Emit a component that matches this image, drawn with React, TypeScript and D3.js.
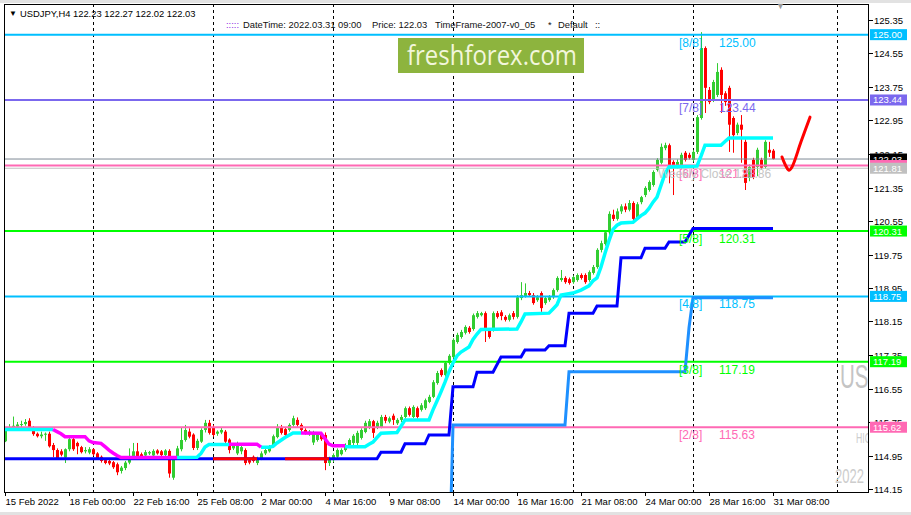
import { useEffect, useRef } from "react";
import * as d3 from "d3";

// H4 bars, 15 Feb 2022 08:00 .. 31 Mar 2022 08:00
const opens = [
  115.29, 115.6, 115.62, 115.64, 115.68, 115.7, 115.78, 115.62, 115.47, 115.41,
  115.45, 115.47, 115.2, 115.08, 115.05, 114.9, 115.1, 115.34, 115.25, 115.15,
  115.05, 115.02, 115.1, 115.0, 114.92, 114.84, 114.82, 114.79, 114.74, 114.58,
  114.65, 114.78, 114.88, 115.05, 114.98, 114.95, 115.0, 114.95, 115.07, 115.05,
  114.96, 115.06, 114.42, 114.9, 115.1, 115.32, 115.52, 115.45, 115.13, 115.28,
  115.56, 115.73, 115.63, 115.47, 115.5, 115.52, 115.33, 115.12, 115.0, 115.05,
  115.08, 114.84, 114.92, 114.77, 114.88, 115.0, 115.05, 115.17, 115.39, 115.63,
  115.58, 115.56, 115.68, 115.8, 115.68, 115.56, 115.46, 115.26, 115.32, 115.46,
  115.44, 114.77, 114.84, 114.92, 114.98, 115.08, 115.2, 115.25, 115.25, 115.37,
  115.51, 115.61, 115.77, 115.63, 115.63, 115.87, 115.76, 115.9, 115.72, 115.8,
  115.87, 116.08, 115.87, 116.08, 116.04, 116.08, 116.23, 116.35, 116.68, 116.99,
  116.87, 117.16, 117.3, 117.66, 117.78, 117.88, 118.0, 117.97, 118.26, 118.3,
  118.35, 117.95, 117.95, 118.35, 118.37, 118.26, 118.19, 118.35, 118.26, 118.71,
  118.76, 118.83, 118.78, 118.66, 118.83, 118.59, 118.66, 118.73, 118.9, 119.14,
  119.19, 119.16, 119.09, 119.14, 119.26, 119.26, 119.14, 119.31, 119.45, 119.86,
  120.0, 120.28, 120.7, 120.6, 120.78, 120.9, 120.82, 120.98, 120.62, 121.0,
  121.17, 121.29, 121.41, 121.77, 121.94, 122.29, 122.36, 121.96, 121.86, 121.84,
  122.18, 122.13, 122.01, 122.2, 123.01, 124.68, 123.68, 123.44, 123.56, 124.16,
  123.6, 123.73, 123.01, 122.65, 122.85, 122.44, 121.58, 122.01, 121.84, 122.01,
  121.84, 122.25, 122.23,
];
const highs = [
  115.62, 115.7, 115.88, 115.75, 115.78, 115.82, 115.84, 115.65, 115.5, 115.52,
  115.5, 115.52, 115.25, 115.12, 115.1, 115.12, 115.38, 115.4, 115.28, 115.18,
  115.15, 115.15, 115.12, 115.03, 114.95, 114.88, 114.86, 114.82, 114.78, 114.7,
  114.82, 115.12, 115.25, 115.25, 115.02, 115.08, 115.06, 115.1, 115.1, 115.08,
  115.1, 115.1, 114.93, 115.18, 115.61, 115.68, 115.6, 115.48, 115.35, 115.6,
  115.8, 115.8, 115.68, 115.55, 115.62, 115.56, 115.36, 115.22, 115.28, 115.2,
  115.12, 114.88, 114.95, 114.92, 115.05, 115.12, 115.2, 115.45, 115.7, 115.68,
  115.62, 115.72, 115.9, 115.86, 115.72, 115.6, 115.56, 115.54, 115.5, 115.5,
  115.5, 114.92, 115.0, 115.12, 115.12, 115.24, 115.36, 115.46, 115.54, 115.6,
  115.78, 115.82, 115.8, 115.78, 115.92, 115.92, 115.88, 115.95, 115.84, 115.92,
  116.12, 116.12, 116.15, 116.12, 116.2, 116.31, 116.4, 116.75, 116.97, 117.03,
  117.2, 117.37, 117.75, 117.88, 117.95, 118.06, 118.04, 118.34, 118.4, 118.38,
  118.39, 117.99, 118.39, 118.4, 118.42, 118.3, 118.34, 118.4, 118.78, 119.09,
  119.06, 118.88, 118.83, 118.78, 118.87, 118.75, 118.78, 118.94, 119.23, 119.38,
  119.23, 119.2, 119.25, 119.3, 119.3, 119.3, 119.37, 119.5, 119.9, 120.08,
  120.32, 120.78, 120.82, 120.85, 120.95, 120.97, 121.05, 121.02, 121.0, 121.15,
  121.38, 121.52, 121.76, 122.05, 122.4, 122.42, 122.4, 122.0, 122.02, 122.18,
  122.22, 122.18, 122.25, 123.08, 125.06, 124.72, 123.75, 123.92, 124.32, 124.22,
  123.65, 123.78, 123.05, 122.9, 123.08, 122.5, 121.9, 122.06, 122.3, 122.06,
  122.48, 122.44, 122.27,
];
const lows = [
  115.27, 115.56, 115.58, 115.6, 115.63, 115.66, 115.58, 115.42, 115.38, 115.36,
  115.3, 115.14, 114.91, 114.86, 114.93, 114.77, 115.05, 115.06, 114.98, 115.0,
  115.0, 114.98, 114.94, 114.85, 114.78, 114.74, 114.72, 114.63, 114.48, 114.52,
  114.6, 114.74, 114.85, 114.86, 114.88, 114.92, 114.96, 114.92, 114.97, 114.92,
  114.93, 114.42, 114.37, 114.85, 115.05, 115.28, 115.36, 115.08, 115.08, 115.25,
  115.5, 115.45, 115.4, 115.42, 115.46, 115.24, 115.0, 115.08, 114.96, 114.98,
  114.72, 114.74, 114.78, 114.72, 114.84, 114.96, 115.02, 115.14, 115.36, 115.45,
  115.4, 115.52, 115.64, 115.64, 115.52, 115.45, 115.42, 115.2, 115.28, 115.3,
  114.6, 114.7, 114.79, 114.88, 114.95, 115.04, 115.16, 115.2, 115.2, 115.33,
  115.48, 115.58, 115.37, 115.58, 115.6, 115.72, 115.72, 115.68, 115.68, 115.75,
  115.83, 115.88, 115.84, 115.83, 116.0, 116.04, 116.2, 116.32, 116.64, 116.83,
  116.83, 117.12, 117.27, 117.62, 117.74, 117.84, 117.86, 117.93, 118.22, 118.27,
  117.66, 117.74, 117.91, 118.22, 118.18, 118.15, 118.15, 118.2, 118.22, 118.66,
  118.72, 118.74, 118.55, 118.62, 118.38, 118.55, 118.62, 118.69, 118.86, 119.1,
  119.05, 119.03, 119.05, 119.1, 119.15, 119.05, 119.1, 119.27, 119.41, 119.8,
  119.96, 120.22, 120.55, 120.56, 120.72, 120.76, 120.78, 120.55, 120.58, 120.95,
  121.12, 121.25, 121.37, 121.73, 121.9, 122.24, 121.45, 121.17, 121.8, 121.8,
  121.97, 122.02, 121.97, 122.15, 122.97, 123.13, 123.34, 123.39, 123.51, 123.13,
  123.3, 122.2, 122.18, 122.6, 121.94, 121.29, 121.5, 121.55, 121.62, 121.78,
  121.8, 122.08, 122.02,
];
const closes = [
  115.6, 115.62, 115.66, 115.69, 115.7, 115.75, 115.62, 115.46, 115.41, 115.45,
  115.47, 115.17, 115.08, 114.89, 114.97, 115.1, 115.34, 115.1, 115.17, 115.03,
  115.08, 115.1, 114.98, 114.89, 114.82, 114.77, 114.76, 114.67, 114.55, 114.66,
  114.78, 114.87, 115.05, 114.9, 114.93, 115.03, 115.03, 115.06, 115.0, 114.96,
  115.07, 114.52, 114.9, 115.12, 115.32, 115.56, 115.4, 115.13, 115.3, 115.56,
  115.73, 115.49, 115.44, 115.52, 115.56, 115.28, 115.08, 115.18, 115.24, 115.15,
  114.77, 114.78, 114.82, 114.88, 115.0, 115.08, 115.17, 115.41, 115.63, 115.49,
  115.44, 115.68, 115.84, 115.68, 115.56, 115.49, 115.52, 115.49, 115.46, 115.34,
  114.77, 114.88, 114.96, 115.08, 115.08, 115.2, 115.32, 115.42, 115.49, 115.56,
  115.73, 115.77, 115.49, 115.73, 115.87, 115.78, 115.84, 115.8, 115.8, 115.87,
  116.08, 115.92, 116.11, 115.87, 116.15, 116.27, 116.35, 116.7, 116.92, 116.87,
  117.16, 117.33, 117.71, 117.83, 117.9, 118.02, 117.9, 118.3, 118.35, 118.35,
  117.95, 117.78, 118.35, 118.26, 118.28, 118.19, 118.3, 118.26, 118.73, 118.78,
  118.83, 118.78, 118.59, 118.73, 118.47, 118.71, 118.73, 118.9, 119.19, 119.19,
  119.09, 119.07, 119.21, 119.26, 119.19, 119.09, 119.33, 119.45, 119.86, 120.02,
  120.28, 120.72, 120.6, 120.78, 120.9, 120.82, 120.98, 120.6, 120.95, 121.12,
  121.34, 121.48, 121.72, 122.01, 122.32, 122.36, 121.84, 121.84, 121.96, 122.13,
  122.01, 122.06, 122.2, 123.03, 124.68, 123.73, 123.39, 123.87, 124.11, 123.56,
  123.39, 122.85, 122.6, 122.85, 122.73, 121.46, 121.84, 121.6, 122.25, 121.82,
  122.44, 122.18, 122.03,
];

const timeLabels = [
  "15 Feb 2022", "18 Feb 00:00", "22 Feb 16:00", "25 Feb 08:00", "2 Mar 00:00",
  "4 Mar 16:00", "9 Mar 08:00", "14 Mar 00:00", "16 Mar 16:00", "21 Mar 08:00",
  "24 Mar 00:00", "28 Mar 16:00", "31 Mar 08:00",
];
const barsPerLabel = 16;
const weekSeparators = [22, 52, 82, 112, 142, 172, 208];

const priceTicks = [
  125.35, 124.55, 123.75, 122.95, 122.15, 121.35, 120.55, 119.75, 118.95,
  118.15, 117.35, 116.55, 115.75, 114.95, 114.15,
];

// Murrey math levels
const murreyTags = ["[8/8]", "[7/8]", "[6/8]", "[5/8]", "[4/8]", "[3/8]", "[2/8]"];
const murreyLevels = [125.0, 123.44, 121.875, 120.31, 118.75, 117.19, 115.625];
const murreyTexts = ["125.00", "123.44", "121.88", "120.31", "118.75", "117.19", "115.63"];
const murreyAxisTexts = ["125.00", "123.44", "121.88", "120.31", "118.75", "117.19", "115.62"];

const lastPrice = 122.03;
const weeklyClose = 121.81;
const weeklyCloseText = "Weekly Close 121.86";

// indicator lines as [bar, price] break points
const stepSlow: [number, number][] = [
  [0, 114.87], [93, 114.87], [94, 115.03], [99, 115.03], [100, 115.23], [105, 115.23],
  [106, 115.44], [111, 115.44], [112, 116.59], [117, 116.59], [118, 116.94], [122, 116.94],
  [124, 117.3], [129, 117.3], [130, 117.47], [135, 117.47], [136, 117.57], [140, 117.57],
  [141, 118.35], [147, 118.35], [148, 118.52], [153, 118.52], [154, 119.67], [159, 119.67],
  [160, 119.9], [165, 119.9], [166, 120.05], [170, 120.05], [172, 120.37], [192, 120.37],
];
const stepSlowRed: [number, number][] = [[52, 63], [70, 81]];
const stepWide: [number, number][] = [
  [111, 112.0], [112, 115.68], [140, 115.68], [141, 116.95], [170, 116.95],
  [171, 118.0], [172, 118.72], [192, 118.72],
];
const trailUp: [number, number][][] = [
  [[0, 115.57], [12, 115.57]],
  [[43, 114.9], [48, 114.91], [49, 115.0], [50, 115.15], [51, 115.21], [56, 115.21]],
  [[64, 115.15], [66, 115.15], [67, 115.17], [68, 115.25], [70, 115.38], [72, 115.49], [74, 115.49]],
  [
    [85, 115.16], [90, 115.16], [91, 115.22], [92, 115.27], [93, 115.38], [94, 115.48],
    [98, 115.5], [99, 115.65], [100, 115.8], [106, 115.8], [107, 116.04], [108, 116.25],
    [109, 116.47], [110, 116.7], [111, 116.95], [112, 117.16], [113, 117.33], [114, 117.42],
    [116, 117.54], [117, 117.72], [118, 117.85], [119, 117.96], [128, 117.97], [129, 118.14],
    [130, 118.33], [136, 118.35], [137, 118.45], [138, 118.55], [139, 118.78], [142, 118.83],
    [144, 118.9], [146, 119.0], [147, 119.12], [148, 119.19], [149, 119.45], [150, 119.78],
    [151, 120.08], [152, 120.35], [153, 120.45], [154, 120.5], [157, 120.52], [158, 120.6],
    [159, 120.68], [160, 120.74], [161, 120.85], [162, 121.0], [163, 121.12], [164, 121.4],
    [165, 121.68], [166, 121.84], [173, 121.86], [174, 122.1], [175, 122.36], [179, 122.36],
    [180, 122.45], [181, 122.53], [192, 122.53],
  ],
];
const trailDown: [number, number][][] = [
  [
    [12, 115.57], [13, 115.52], [14, 115.47], [15, 115.4], [20, 115.4], [21, 115.3],
    [22, 115.26], [24, 115.24], [25, 115.16], [26, 115.08], [27, 115.01], [28, 114.95],
    [29, 114.9], [43, 114.9],
  ],
  [[56, 115.22], [63, 115.22], [64, 115.15]],
  [[74, 115.49], [79, 115.48], [80, 115.35], [81, 115.22], [82, 115.18], [85, 115.18]],
];
const forecastHook: [number, number][] = [
  [194.25, 122.08], [195.25, 121.86], [196, 121.76], [196.75, 121.84], [199, 122.44], [201.25, 123.03],
];

const W = 911;
const H = 515;
const FONT = '"Liberation Sans", Arial, Helvetica, sans-serif';
const GREEN = "#32cd32";
const RED = "#ff0000";
const MURREY_COLORS = ["#00bfff", "#7b68ee", "#ff69b4", "#00ff00", "#00bfff", "#00ff00", "#ff69b4"];

export default function App() {
  const svgRef = useRef<SVGSVGElement>(null);

  useEffect(() => {
    if (!svgRef.current) return;
    const svg = d3.select(svgRef.current);
    svg.selectAll("*").remove();

    const x = d3.scaleLinear().domain([0, 216]).range([5, 869]);
    const y = d3.scaleLinear().domain([114.15, 125.35]).range([489, 20]);

    svg.append("rect").attr("width", W).attr("height", H).attr("fill", "#fff");
    svg.append("rect").attr("width", W).attr("height", 3).attr("fill", "#e2e2e2");
    svg.append("rect").attr("y", H - 3).attr("width", W).attr("height", 3).attr("fill", "#e2e2e2");

    svg
      .append("defs")
      .append("clipPath")
      .attr("id", "plot-clip")
      .append("rect")
      .attr("x", 5)
      .attr("y", 5)
      .attr("width", 864)
      .attr("height", 487);

    const plot = svg.append("g").attr("clip-path", "url(#plot-clip)");

    // week separators
    plot
      .selectAll("line.sep")
      .data(weekSeparators)
      .join("line")
      .attr("x1", (d) => Math.round(x(d)) + 0.5)
      .attr("x2", (d) => Math.round(x(d)) + 0.5)
      .attr("y1", 4)
      .attr("y2", 492)
      .attr("stroke", "#000")
      .attr("stroke-dasharray", "3,3");

    // watermark
    const wm = [
      { t: "USDJPY", px: 840, py: 388, fs: 33, c: "#c4c4c4" },
      { t: "HIGH", px: 856, py: 443, fs: 14, c: "#cdcdcd" },
      { t: "2022", px: 835, py: 483, fs: 21, c: "#cdcdcd" },
    ];
    wm.forEach((w) => {
      plot
        .append("text")
        .attr("transform", `translate(${w.px},${w.py}) scale(0.62,1)`)
        .attr("font-family", FONT)
        .attr("font-size", w.fs)
        .attr("fill", w.c)
        .text(w.t);
    });

    // candles
    const bars = closes.map((c, i) => ({ i, o: opens[i], h: highs[i], l: lows[i], c }));
    const cg = plot.append("g").selectAll("g").data(bars).join("g");
    cg.append("line")
      .attr("x1", (d) => x(d.i) + 0.5)
      .attr("x2", (d) => x(d.i) + 0.5)
      .attr("y1", (d) => y(d.h))
      .attr("y2", (d) => y(d.l))
      .attr("stroke", (d) => (d.c >= d.o ? GREEN : RED))
      .attr("stroke-width", 1);
    cg.append("rect")
      .attr("x", (d) => x(d.i) - 1)
      .attr("width", 3)
      .attr("y", (d) => y(Math.max(d.o, d.c)))
      .attr("height", (d) => Math.max(1, Math.abs(y(d.o) - y(d.c))))
      .attr("fill", (d) => (d.c >= d.o ? GREEN : RED));

    // horizontal lines
    const hline = (v: number, color: string, w: number) =>
      plot
        .append("line")
        .attr("x1", 4)
        .attr("x2", 869)
        .attr("y1", y(v))
        .attr("y2", y(v))
        .attr("stroke", color)
        .attr("stroke-width", w);
    hline(lastPrice, "#7f8a96", 1);
    hline(weeklyClose, "#c0c0c0", 1);
    murreyLevels.forEach((v, k) => hline(v, MURREY_COLORS[k], 2));

    const line = d3
      .line<[number, number]>()
      .x((d) => x(d[0]))
      .y((d) => y(d[1]));

    // step indicators
    plot
      .append("path")
      .datum(stepWide)
      .attr("d", line)
      .attr("fill", "none")
      .attr("stroke", "#1e90ff")
      .attr("stroke-width", 3);
    plot
      .append("path")
      .datum(stepSlow)
      .attr("d", line)
      .attr("fill", "none")
      .attr("stroke", "#0000ff")
      .attr("stroke-width", 3);
    plot
      .selectAll("path.slowred")
      .data(stepSlowRed)
      .join("path")
      .attr("d", (r) => line([[r[0], stepSlow[0][1]], [r[1], stepSlow[0][1]]]))
      .attr("fill", "none")
      .attr("stroke", RED)
      .attr("stroke-width", 3);

    // trailing line
    plot
      .selectAll("path.up")
      .data(trailUp)
      .join("path")
      .attr("d", line)
      .attr("fill", "none")
      .attr("stroke", "#00ffff")
      .attr("stroke-width", 3.5);
    plot
      .selectAll("path.dn")
      .data(trailDown)
      .join("path")
      .attr("d", line)
      .attr("fill", "none")
      .attr("stroke", "#ff00ff")
      .attr("stroke-width", 3.5);

    // hand-drawn forecast hook
    plot
      .append("path")
      .datum(forecastHook)
      .attr("d", line.curve(d3.curveCatmullRom.alpha(0.5)))
      .attr("fill", "none")
      .attr("stroke", RED)
      .attr("stroke-width", 3)
      .attr("stroke-linecap", "round");

    // murrey labels
    const tagX = x(168.5);
    const valX = x(178.5);
    murreyLevels.forEach((v, k) => {
      plot
        .append("text")
        .attr("x", tagX)
        .attr("y", y(v) + 12)
        .attr("font-family", FONT)
        .attr("font-size", 12)
        .attr("fill", MURREY_COLORS[k])
        .text(murreyTags[k]);
      plot
        .append("text")
        .attr("x", valX)
        .attr("y", y(v) + 12)
        .attr("font-family", FONT)
        .attr("font-size", 12)
        .attr("fill", MURREY_COLORS[k])
        .text(murreyTexts[k]);
    });
    plot
      .append("text")
      .attr("x", x(163.25))
      .attr("y", y(weeklyClose) + 10)
      .attr("font-family", FONT)
      .attr("font-size", 12)
      .attr("fill", "#c0c0c0")
      .attr("opacity", 0.9)
      .text(weeklyCloseText);

    // frame
    svg
      .append("rect")
      .attr("x", 4.5)
      .attr("y", 4.5)
      .attr("width", 864)
      .attr("height", 488)
      .attr("fill", "none")
      .attr("stroke", "#000");

    // price axis
    const yAxis = svg.append("g");
    priceTicks.forEach((v) => {
      const py = Math.round(y(v)) + 0.5;
      yAxis.append("line").attr("x1", 869).attr("x2", 873).attr("y1", py).attr("y2", py).attr("stroke", "#000");
      yAxis
        .append("text")
        .attr("x", 874)
        .attr("y", py + 3.5)
        .attr("font-family", FONT)
        .attr("font-size", 9.5)
        .attr("fill", "#000")
        .text(v.toFixed(2));
    });
    const priceBox = (v: number, label: string, bg: string) => {
      const g = svg.append("g").attr("transform", `translate(870,${y(v) - 5.5})`);
      g.append("rect").attr("width", 37).attr("height", 11).attr("fill", bg);
      g.append("text")
        .attr("x", 3)
        .attr("y", 9)
        .attr("font-family", FONT)
        .attr("font-size", 9.5)
        .attr("fill", "#fff")
        .text(label);
    };
    murreyLevels.forEach((v, k) => {
      if (k !== 2) priceBox(v, murreyAxisTexts[k], MURREY_COLORS[k]);
    });
    priceBox(lastPrice, lastPrice.toFixed(2), "#000");
    priceBox(murreyLevels[2], murreyAxisTexts[2], MURREY_COLORS[2]);
    priceBox(weeklyClose, weeklyClose.toFixed(2), "#c0c0c0");

    // time axis
    const xAxis = svg.append("g");
    timeLabels.forEach((t, k) => {
      const px = Math.round(x(k * barsPerLabel)) + 0.5;
      xAxis.append("line").attr("x1", px).attr("x2", px).attr("y1", 492).attr("y2", 496).attr("stroke", "#000");
      xAxis
        .append("text")
        .attr("x", px)
        .attr("y", 505)
        .attr("font-family", FONT)
        .attr("font-size", 9.5)
        .attr("fill", "#000")
        .text(t);
    });

    // header
    const head = svg.append("g").attr("font-family", FONT).attr("style", "white-space: pre");
    head.append("text").attr("x", 9).attr("y", 16).attr("font-size", 8).attr("fill", "#000").text("▼");
    head
      .append("text")
      .attr("x", 20)
      .attr("y", 17)
      .attr("font-size", 9.4)
      .attr("fill", "#000")
      .text("USDJPY,H4  122.23 122.27 122.02 122.03");
    head.append("text").attr("x", 226).attr("y", 28).attr("font-size", 9.4).attr("fill", "#8a2be2").text(":::::");
    const info = [
      { t: "DateTime: 2022.03.31 09:00", px: 243 },
      { t: "Price: 122.03", px: 372 },
      { t: "TimeFrame-2007-v0_05", px: 435 },
      { t: "*", px: 548 },
      { t: "Default", px: 558 },
      { t: "::", px: 595 },
    ];
    info.forEach((d) =>
      head.append("text").attr("x", d.px).attr("y", 28).attr("font-size", 9.4).attr("fill", "#111").text(d.t)
    );
    head.append("text").attr("x", 776).attr("y", 9).attr("font-size", 9).attr("fill", "#9a9a9a").text("▼");

    // logo
    const logo = svg.append("g");
    logo.append("rect").attr("x", 398).attr("y", 38).attr("width", 186).attr("height", 35).attr("fill", "#8db43e");
    logo
      .append("text")
      .attr("x", 407)
      .attr("y", 65)
      .attr("font-family", '"Open Sans", "Liberation Sans", sans-serif')
      .attr("font-size", 27)
      .attr("fill", "#f2f6dc")
      .attr("textLength", 170)
      .attr("lengthAdjust", "spacingAndGlyphs")
      .text("freshforex.com");
  }, []);

  return (
    <svg
      ref={svgRef}
      width={W}
      height={H}
      style={{ position: "absolute", left: 0, top: 0, display: "block" }}
    />
  );
}
